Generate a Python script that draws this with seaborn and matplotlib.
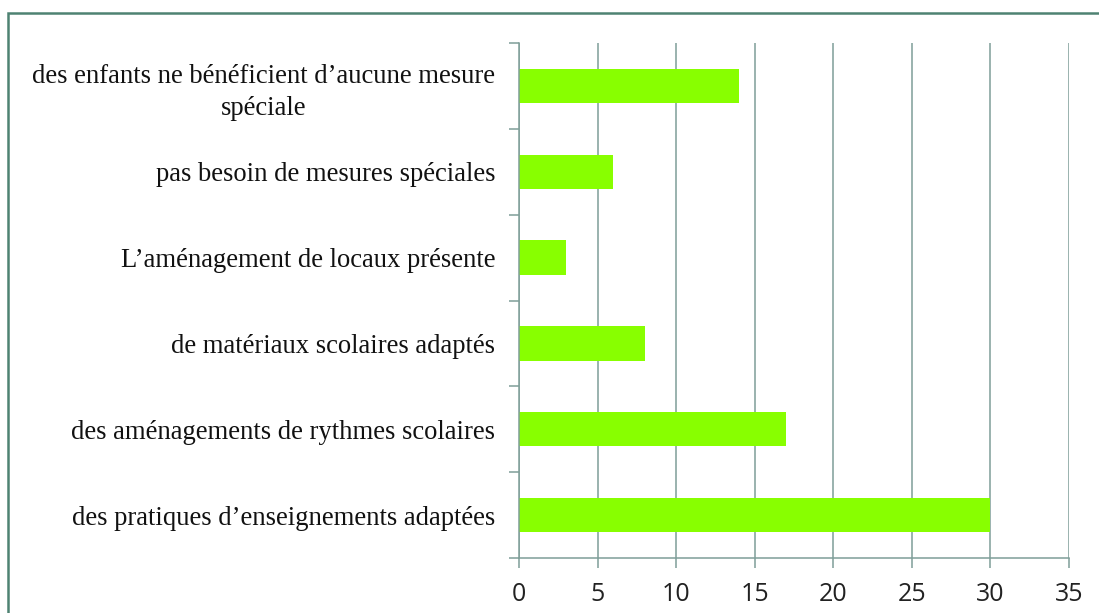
import matplotlib
matplotlib.use("Agg")
import matplotlib.pyplot as plt
import matplotlib.patches as mpatches
import seaborn as sns
import pandas as pd
import numpy as np

categories = [
    "des enfants ne bénéficient d’aucune mesure\nspéciale",
    "pas besoin de mesures spéciales",
    "L’aménagement de locaux présente",
    "de matériaux scolaires adaptés",
    "des aménagements de rythmes scolaires",
    "des pratiques d’enseignements adaptées",
]
values = [14, 6, 3, 8, 17, 30]
xticks = [0, 5, 10, 15, 20, 25, 30, 35]

sns.set_theme(style="white")
plt.rcParams['font.family'] = ['DejaVu Sans']

df = pd.DataFrame({"cat": categories, "val": values})

fig = plt.figure(figsize=(10.99, 6.13), dpi=100)
ax = fig.add_axes([519/1099, 1-558/613, (1069-519)/1099, (558-43)/613])

sns.barplot(data=df, y="cat", x="val", orient="h", color="#88FF00",
            saturation=1, width=0.4, ax=ax, edgecolor="none")

grid_c = "#7F9E99"
ax.set_xlim(0, 35)
ax.set_ylim(len(categories)-0.5, -0.5)
ax.set_xticks(xticks)
ax.set_xticklabels([str(t) for t in xticks], fontsize=18, family=["Open Sans", "DejaVu Sans"], color="#222222")
for t in xticks:
    ax.axvline(t, color=grid_c, lw=1.1, zorder=0)
ax.set_axisbelow(True)

ax.set_yticks(range(len(categories)))
ax.set_yticklabels(categories, fontsize=19.2, family=["Liberation Serif"], color="#111111",
                   multialignment="center", linespacing=1.35)
ax.tick_params(axis="y", which="major", length=0, pad=17)
ax.set_yticks(np.arange(-0.5, len(categories), 1.0), minor=True)
ax.tick_params(axis="y", which="minor", length=7, width=1.1, color=grid_c, direction="out", left=True)
ax.tick_params(axis="x", which="major", length=7, width=1.1, color=grid_c, direction="out", pad=10, bottom=True)

for s in ["top", "right"]:
    ax.spines[s].set_visible(False)
for s in ["left", "bottom"]:
    ax.spines[s].set_color(grid_c)
    ax.spines[s].set_linewidth(1.1)

ax.set_xlabel("")
ax.set_ylabel("")

rect = mpatches.Rectangle((8/1099, -0.2), 1.2, 1.2 - 13/613, transform=fig.transFigure,
                          fill=False, edgecolor="#4E8272", linewidth=1.8, clip_on=False)
fig.patches.append(rect)

fig.savefig("out.png", dpi=100)
